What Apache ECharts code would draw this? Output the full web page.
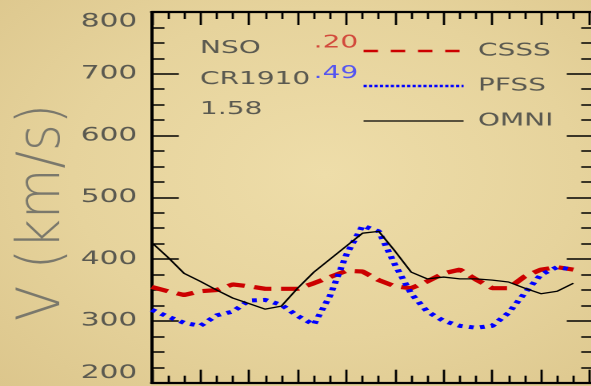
<!DOCTYPE html>
<html><head><meta charset="utf-8">
<script src="https://cdn.jsdelivr.net/npm/echarts@6/dist/echarts.min.js"></script>
<style>
html,body{margin:0;padding:0;width:591px;height:386px;overflow:hidden;background:#e8d7a3;}
#wrap{width:591px;height:386px;overflow:hidden;position:relative;
  background:radial-gradient(ellipse at 55% 45%, #eedda9 0%, #e6d39c 55%, #dcc68c 100%);}
#chart{position:absolute;left:0;top:0;width:372px;height:386px;transform:scaleX(1.6);transform-origin:0 0;}
</style></head><body><div id="wrap"><div id="chart"></div></div>
<script>
// ---- data (days of Carrington rotation, solar-wind speed km/s) ----
const days  = [0,1,2,3,4,5,6,7,8,9,10,11,12,13,14,15,16,17,18,19,20,21,22,23,24,25,26];
const csss  = [355,348,342,348,350,359,356,352,352,352,361,371,381,380,366,356,353,364,377,383,367,353,353,372,383,387,383];
const pfss  = [318,307,297,292,309,315,333,334,326,308,294,341,407,454,445,391,344,315,300,292,289,292,313,345,375,387,383];
const omni  = [427,403,377,364,350,337,328,319,324,353,379,400,421,442,445,413,379,368,371,368,368,366,363,353,344,348,361];
const seriesNames = ['CSSS','PFSS','OMNI'];
const yTicks = [200,300,400,500,600,700,800];
const infoLines = ['NSO','CR1910','1.58'];
const corrCSSS = '.20';
const corrPFSS = '.49';
const yTitle = 'V (km/s)';

const FONT = 'DejaVu Sans';
const LABEL = '#5a5950';
const W = 372, GL = 94.8, GR = 0.75;
const GW = W - GL - GR;
const chart = echarts.init(document.getElementById('chart'), null, {renderer:'canvas', devicePixelRatio:2});

function xAx(pos){
  return {type:'value', position:pos, min:days[0], max:27.27, interval:3,
    axisLine:{show:true, lineStyle:{color:'#000', width:2.2}},
    axisTick:{show:true, inside:true, length:13, lineStyle:{color:'#000', width:1.4}},
    minorTick:{show:true, splitNumber:3, length:7, lineStyle:{color:'#000', width:1.4}},
    axisLabel:{show:false}, splitLine:{show:false}, minorSplitLine:{show:false}};
}
// axis lines (+ labels on the left)
function yLine(pos, labels){
  return {type:'value', position:pos, min:yTicks[0], max:yTicks[yTicks.length-1], interval:100,
    axisLine:{show:true, lineStyle:{color:'#000', width:2}},
    axisTick:{show:false}, minorTick:{show:false},
    axisLabel:{show:labels, color:LABEL, fontFamily:FONT, fontSize:18.5, margin:9,
      verticalAlignMaxLabel:'top', verticalAlignMinLabel:'bottom'},
    splitLine:{show:false}, minorSplitLine:{show:false}};
}
// tick-only axes placed on the opposite edge so their ticks point into the plot
function yTicksAx(pos){
  return {type:'value', position:pos, offset:-GW, min:yTicks[0], max:yTicks[yTicks.length-1], interval:100,
    axisLine:{show:false},
    axisTick:{show:true, inside:false, length:17, lineStyle:{color:'#000', width:1.5}},
    minorTick:{show:true, splitNumber:4, length:8, lineStyle:{color:'#000', width:1.5}},
    axisLabel:{show:false}, splitLine:{show:false}, minorSplitLine:{show:false}};
}

const txt = (t, x, y, color) => ({type:'text', x:x, y:y,
  style:{text:t, fill:color, font:'17.5px "DejaVu Sans"', verticalAlign:'middle', align:'left'}});

chart.setOption({
  animation:false,
  backgroundColor:'transparent',
  grid:{left:GL, right:GR, top:12, bottom:3.3, containLabel:false, outerBoundsMode:'none'},
  xAxis:[xAx('bottom'), xAx('top')],
  yAxis:[yLine('left', true), yLine('right', false), yTicksAx('right'), yTicksAx('left')],
  legend:{orient:'vertical', left:226, top:42, padding:0, itemWidth:62.5, itemHeight:14, itemGap:17,
    selectedMode:false,
    itemStyle:{color:'transparent', borderColor:'transparent', borderWidth:0, opacity:0},
    textStyle:{color:LABEL, fontFamily:FONT, fontSize:17.5, padding:[0,0,0,4]},
    data:[
      {name:seriesNames[0], lineStyle:{width:2.5, type:[9,8]}},
      {name:seriesNames[1], lineStyle:{width:2.5, type:[2,1.4]}},
      {name:seriesNames[2], lineStyle:{width:1.2}}
    ]},
  graphic:[
    {type:'text', x:27.5, y:212.5, rotation:Math.PI/2, scaleX:1.4, scaleY:1,
     style:{text:yTitle, fill:'#7a786c', font:'lighter 37px "DejaVu Sans"', align:'center', verticalAlign:'middle'}},
    txt(infoLines[0], 125, 48.5, LABEL),
    txt(infoLines[1], 125, 79.5, LABEL),
    txt(infoLines[2], 125, 109.5, LABEL),
    txt(corrCSSS, 196, 43, '#d24a3c'),
    txt(corrPFSS, 196, 73.5, '#5555f0')
  ],
  series:[
    {name:seriesNames[0], type:'line', xAxisIndex:0, yAxisIndex:0, symbol:'none', color:'#cc0000',
     lineStyle:{color:'#cc0000', width:4.2, type:[11,6]}, data:days.map((d,i)=>[d, csss[i]])},
    {name:seriesNames[1], type:'line', xAxisIndex:0, yAxisIndex:0, symbol:'none', color:'#0000ff',
     lineStyle:{color:'#0000ff', width:4, type:[3,4]}, data:days.map((d,i)=>[d, pfss[i]])},
    {name:seriesNames[2], type:'line', xAxisIndex:0, yAxisIndex:0, symbol:'none', color:'#000000',
     lineStyle:{color:'#000000', width:1.3}, data:days.map((d,i)=>[d, omni[i]])}
  ]
});
</script></body></html>
